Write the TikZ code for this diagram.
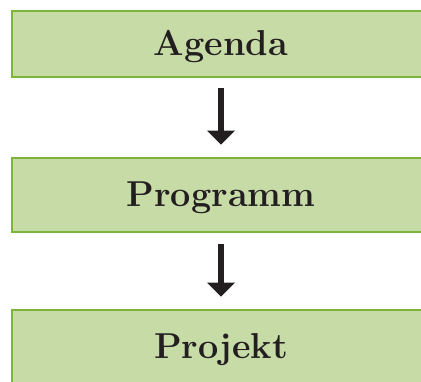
\documentclass[tikz,border=0pt]{standalone}
\usepackage{tikz}
\usepackage{xcolor}
\usetikzlibrary{arrows.meta}
\definecolor{boxfill}{HTML}{C6DBA6}
\definecolor{boxline}{HTML}{7DB43C}
\definecolor{ink}{HTML}{231F20}
\tikzset{stage/.style={draw=boxline, fill=boxfill, line width=2.5pt,
   minimum width=418pt, text height=24pt, text depth=0pt,
   font=\fontsize{36}{42}\selectfont\bfseries, text=ink},
 flow/.style={draw=ink, line width=6pt,
   -{Triangle[width=27pt,length=14pt]}},
 }

\begin{document}
\begin{tikzpicture}[x=1pt,y=1pt]
        \useasboundingbox (0,0) rectangle (421,-382);
        \node[stage, minimum height=66pt] (agenda) at (221,-44) {Agenda};
        \node[stage, minimum height=74pt] (programm) at (221,-195) {Programm};
        \node[stage, minimum height=74pt] (projekt) at (221,-347) {Projekt};
        \draw[flow, shorten <=10pt, shorten >=12pt] (agenda.south) -- (programm.north);
        \draw[flow, shorten <=11pt, shorten >=12pt] (programm.south) -- (projekt.north);
    \end{tikzpicture}
\end{document}
